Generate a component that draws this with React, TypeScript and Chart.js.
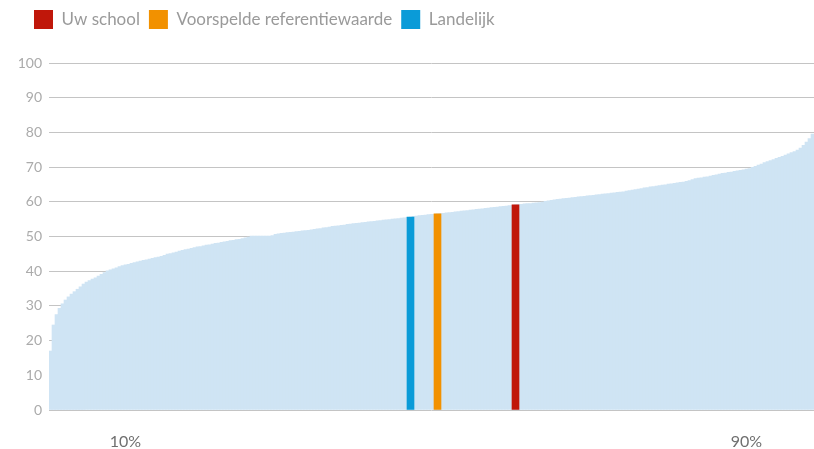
import React, { useEffect, useRef } from 'react';
import { Chart, registerables } from 'chart.js';

Chart.register(...registerables);

// Sorted school scores (distribution)
const distribution = [
  17.0, 24.5, 27.5, 29.3, 30.6, 31.7, 32.6, 33.4, 34.1, 34.8,
  35.5, 36.3, 36.9, 37.3, 37.7, 38.1, 38.6, 39.1, 39.6, 40.1,
  40.4, 40.7, 41.0, 41.3, 41.6, 41.8, 42.0, 42.3, 42.5, 42.7,
  42.9, 43.1, 43.3, 43.5, 43.7, 43.9, 44.1, 44.3, 44.6, 44.9,
  45.1, 45.3, 45.5, 45.8, 46.0, 46.2, 46.4, 46.6, 46.8, 47.0,
  47.1, 47.3, 47.5, 47.6, 47.8, 48.0, 48.1, 48.3, 48.5, 48.6,
  48.8, 48.9, 49.1, 49.2, 49.4, 49.6, 49.8, 50.1, 50.1, 50.1,
  50.1, 50.1, 50.1, 50.1, 50.3, 50.6, 50.8, 50.9, 51.0, 51.1,
  51.2, 51.3, 51.4, 51.5, 51.6, 51.7, 51.8, 51.9, 52.1, 52.2,
  52.3, 52.5, 52.6, 52.7, 52.9, 53.0, 53.1, 53.2, 53.3, 53.5,
  53.6, 53.7, 53.8, 53.9, 54.0, 54.1, 54.2, 54.3, 54.4, 54.5,
  54.6, 54.7, 54.8, 54.9, 55.0, 55.1, 55.2, 55.3, 55.4, 55.5,
  55.6, 55.8, 55.9, 56.0, 56.1, 56.2, 56.3, 56.4, 56.4, 56.5,
  56.6, 56.7, 56.8, 56.9, 57.0, 57.1, 57.2, 57.3, 57.4, 57.5,
  57.6, 57.7, 57.8, 57.9, 58.0, 58.1, 58.2, 58.3, 58.4, 58.5,
  58.6, 58.7, 58.8, 58.9, 59.0, 59.1, 59.2, 59.3, 59.4, 59.5,
  59.5, 59.6, 59.7, 59.8, 59.9, 60.1, 60.3, 60.4, 60.6, 60.7,
  60.8, 60.9, 61.0, 61.1, 61.2, 61.3, 61.4, 61.5, 61.6, 61.7,
  61.8, 61.9, 62.0, 62.1, 62.2, 62.3, 62.4, 62.5, 62.6, 62.7,
  62.8, 62.9, 63.1, 63.2, 63.4, 63.5, 63.7, 63.8, 64.0, 64.1,
  64.3, 64.4, 64.5, 64.7, 64.8, 64.9, 65.1, 65.2, 65.3, 65.5,
  65.6, 65.7, 65.9, 66.1, 66.4, 66.7, 66.8, 66.9, 67.1, 67.2,
  67.4, 67.6, 67.8, 68.0, 68.2, 68.3, 68.5, 68.6, 68.8, 68.9,
  69.1, 69.2, 69.4, 69.6, 69.9, 70.2, 70.6, 70.9, 71.3, 71.6,
  71.9, 72.2, 72.5, 72.8, 73.1, 73.5, 73.8, 74.2, 74.5, 74.9,
  75.5, 76.3, 77.2, 78.2, 79.5,
];

const schoolLabels = distribution.map((_, i) => String(i + 1));

const percentileLabels = ['10%', '90%'];
const percentileIndex = [25, 232];

const seriesNames = ['Uw school', 'Voorspelde referentiewaarde', 'Landelijk'];
const seriesIndex = [155, 129, 120];
const seriesValues = [59.1, 56.5, 55.6];
const seriesColors = ['#C0170A', '#F29100', '#0A9BD8'];

const yTicks = [0, 10, 20, 30, 40, 50, 60, 70, 80, 90, 100];

const legendSpacing = {
  id: 'legendSpacing',
  beforeInit(chart: any) {
    const legend = chart.legend;
    if (!legend) return;
    const origFit = legend.fit;
    legend.fit = function () {
      origFit.call(this);
      this.height += 24;
    };
  },
  afterLayout(chart: any) {
    if (chart.legend) chart.legend.left = 25;
  },
};

export default function App() {
  const ref = useRef<HTMLCanvasElement | null>(null);

  useEffect(() => {
    if (!ref.current) return;
    Chart.defaults.font.family = 'Lato';

    const highlight = seriesNames.map((name, k) => ({
      label: name,
      data: distribution.map((_, i) => (i === seriesIndex[k] ? seriesValues[k] : null)),
      backgroundColor: seriesColors[k],
      borderWidth: 0,
      barThickness: 7,
      grouped: false,
    }));

    const chart = new Chart(ref.current, {
      type: 'bar',
      data: {
        labels: schoolLabels,
        datasets: [
          ...highlight,
          {
            label: 'Scholen',
            data: distribution,
            backgroundColor: '#CFE4F4',
            borderWidth: 0,
            barPercentage: 1,
            categoryPercentage: 1,
            grouped: false,
          },
        ] as any,
      },
      options: {
        responsive: false,
        animation: false,
        layout: { padding: { left: 0, top: 1, right: 0, bottom: 0 } },
        plugins: {
          tooltip: { enabled: false },
          legend: {
            position: 'top',
            align: 'start',
            labels: {
              boxWidth: 19,
              boxHeight: 19,
              padding: 9,
              color: '#9a9a9a',
              font: { size: 17, family: 'Lato' },
              filter: (item: any) => item.datasetIndex < seriesNames.length,
            },
          },
        },
        scales: {
          x: {
            grid: { display: false },
            border: { display: false },
            ticks: {
              autoSkip: false,
              maxRotation: 0,
              minRotation: 0,
              padding: 14,
              color: '#6f6f6f',
              font: { size: 16, family: 'Lato' },
              callback: (_v: any, i: number) => {
                const p = percentileIndex.indexOf(i);
                return p >= 0 ? percentileLabels[p] : '';
              },
            },
            afterFit: (scale: any) => {
              scale.height = 39;
              scale.paddingLeft = 0;
              scale.paddingRight = 0;
            },
          },
          y: {
            min: 0,
            max: 100,
            afterBuildTicks: (scale: any) => {
              scale.ticks = yTicks.map((v) => ({ value: v }));
            },
            grid: { color: '#c4c4c4', lineWidth: 1, drawTicks: false },
            border: { display: false },
            ticks: {
              padding: 7,
              color: '#ababab',
              font: { size: 14, family: 'Lato' },
            },
            afterFit: (scale: any) => {
              scale.width = 49;
            },
          },
        },
      },
      plugins: [legendSpacing],
    });

    return () => chart.destroy();
  }, []);

  return (
    <div style={{ position: 'absolute', left: 0, top: 0, width: 814, height: 449 }}>
      <canvas ref={ref} width={814} height={449} />
    </div>
  );
}
